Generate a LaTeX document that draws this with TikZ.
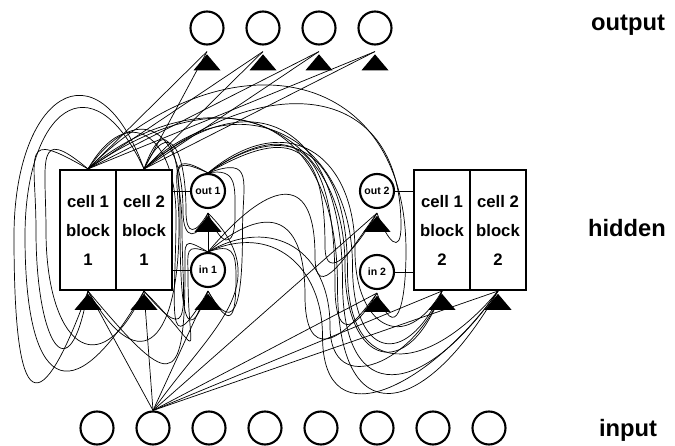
\documentclass[tikz,border=0pt]{standalone}
\usepackage{fontspec}
\setmainfont{Liberation Sans}
\usetikzlibrary{shapes.geometric,backgrounds}

\begin{document}
\begin{tikzpicture}[line width=1.2pt,
  unit/.style={draw, circle, fill=white, minimum size=0.66cm, inner sep=0pt},
  gate/.style={draw, circle, fill=white, minimum size=0.68cm, inner sep=0pt, font=\fontsize{6}{7}\selectfont\bfseries},
  cell/.style={draw, fill=white, minimum width=1.12cm, minimum height=2.4cm, inner sep=0pt, align=center, font=\fontsize{9.5}{16.5}\selectfont\bfseries},
  wedge/.style={isosceles triangle, isosceles triangle stretches, rotate=90, fill=black, inner sep=0pt, minimum width=0.54cm, minimum height=0.32cm, anchor=apex},
  rowlabel/.style={font=\fontsize{13.5}{16}\selectfont\bfseries}]
  \useasboundingbox (0,0) rectangle (13.5,8.92);

  % input and output units
  \foreach \k in {1,...,8}
    \node[unit] (x\k) at ({0.82+1.12*\k},0.36) {};
  \foreach \k in {1,...,4} {
    \node[unit] (y\k) at ({3.02+1.12*\k},8.36) {};
    \node[wedge] (hy\k) at ([yshift=-0.12cm]y\k.south) {};
  }

  % memory cell blocks and their gates
  \node[cell] (c11) at (1.76,4.32) {cell 1\\block\\1};
  \node[cell] (c12) at (2.88,4.32) {cell 2\\block\\1};
  \node[cell] (c21) at (8.84,4.32) {cell 1\\block\\2};
  \node[cell] (c22) at (9.96,4.32) {cell 2\\block\\2};
  \node[gate] (out1) at (4.16,5.10) {out 1};
  \node[gate] (in1) at (4.16,3.52) {in 1};
  \node[gate] (out2) at (7.54,5.10) {out 2};
  \node[gate] (in2) at (7.54,3.48) {in 2};
  \foreach \n in {c11,c12,c21,c22}
    \node[wedge] (h\n) at (\n.south) {};
  \foreach \n/\d in {out1/0.08,in1/0.06,out2/0.08,in2/0.06}
    \node[wedge] (h\n) at ([yshift=-\d cm]\n.south) {};

  \node[rowlabel] (lo) at (12.56,8.42) {output};
  \node[rowlabel] (lh) at (12.54,4.36) {hidden};
  \node[rowlabel] (li) at (12.56,0.32) {input};

  \begin{scope}[on background layer]
    \draw (out1.west) -- (out1.west -| c12.east);
    \draw (in1.west) -- (in1.west -| c12.east);
    \draw (out2.east) -- (out2.east -| c21.west);
    \draw (in2.east) -- (in2.east -| c21.west);
    % input unit 2 feeds all cells and gates
    \foreach \dst in {hc11,hc12,hin1,hout2,hin2,hc21,hc22}
      \draw (x2.north) -- (\dst.apex);
    \draw (x2.north) to[out=55,in=-45,distance=2cm] (hout1.apex);
    % block 1 cells to the output units
    \foreach \src in {c11,c12}
      \foreach \k in {1,...,4}
        \draw (\src.north) -- (hy\k.apex);
    % recurrent wires: leave the top, pass a side point, come in from below
    \foreach \src/\dst/\ao/\da/\wx/\wy/\ai/\db in {
        c12.north/hc11/110/2.8/0.28/4.2/-110/3.2,
        c12.north/hc12/115/2.5/0.50/4.2/-120/3.0,
        c11.north/hc11/150/1.6/0.72/4.3/-100/2.2,
        c11.north/hc12/140/1.4/0.92/4.3/-115/2.2,
        out1.north/hc11/150/1.0/3.58/4.4/-60/2.2,
        out1.north/hc12/155/1.0/3.64/4.4/-50/1.6,
        in1.north/hc11/150/0.6/3.70/3.5/-50/2.5,
        in1.north/hc12/160/0.5/3.76/3.4/-45/1.8,
        c11.north/hin1/60/1.6/3.52/4.6/-120/1.8,
        c12.north/hin1/70/1.3/3.60/4.6/-110/1.5,
        c11.north/hout1/55/1.7/3.66/4.7/-110/0.6,
        c12.north/hout1/65/1.2/3.72/4.7/-120/0.5,
        out1.north/hin1/20/1.0/4.85/4.3/-60/1.2,
        in1.north/hin1/20/0.5/4.72/3.4/-60/0.9,
        out1.north/hout1/10/0.6/4.70/4.6/-70/0.7,
        c11.north/hin2/45/3.8/8.12/3.9/-70/1.1,
        c12.north/hout2/40/3.0/8.02/4.4/-70/0.6,
        out1.north/hout2/30/2.0/6.50/4.0/-120/0.8,
        in1.north/hout2/50/1.8/6.30/3.8/-125/1.0,
        out1.north/hin2/35/2.4/6.70/3.2/-120/1.0,
        in1.north/hin2/40/1.6/6.10/3.0/-125/1.3,
        c11.north/hc21/40/3.0/6.90/3.6/-110/2.0,
        c12.north/hc21/45/2.6/7.05/3.6/-115/1.8,
        out1.north/hc21/40/2.0/7.10/3.9/-120/1.5,
        in1.north/hc21/30/1.5/6.60/2.4/-110/1.5,
        c11.north/hc22/35/3.4/6.75/3.2/-120/3.0,
        c12.north/hc22/40/3.0/6.85/3.3/-125/2.6,
        out1.north/hc22/35/2.2/6.95/3.5/-130/2.2,
        in1.north/hc22/25/1.4/6.45/2.2/-125/2.2}
      \draw (\src) to[out=\ao,in=90,distance=\da cm] (\wx,\wy)
        to[out=-90,in=\ai,distance=\db cm] (\dst.apex);
    \draw (in1.north) -- (hout1.apex);
  \end{scope}
\end{tikzpicture}
\end{document}
